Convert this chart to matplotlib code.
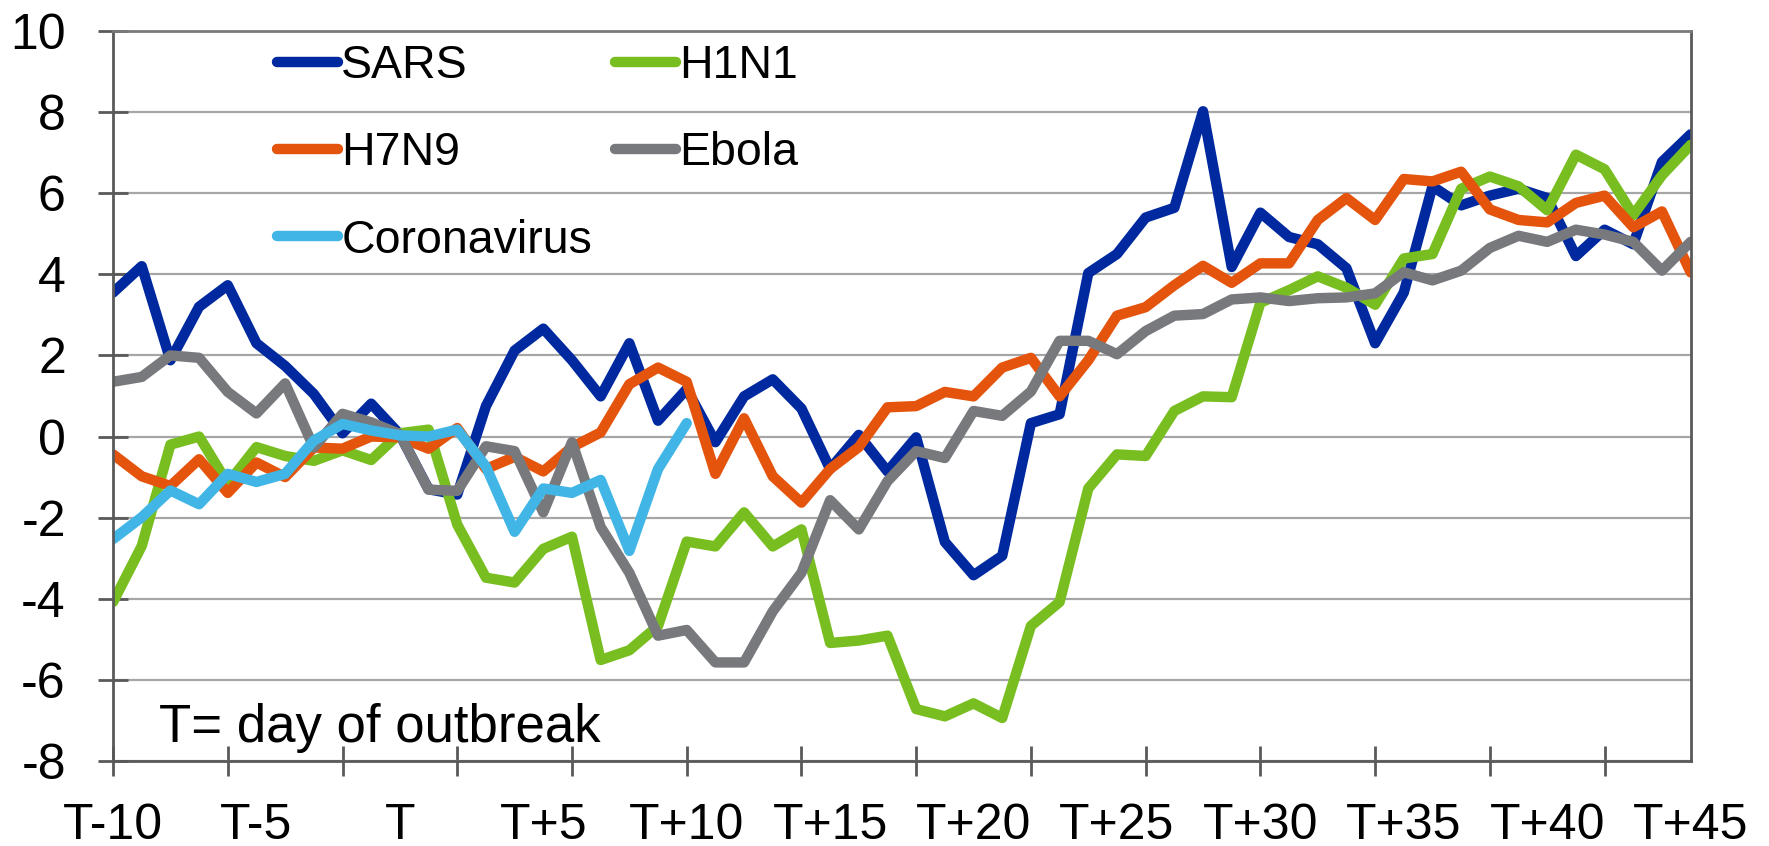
import matplotlib
matplotlib.use("Agg")
import matplotlib.pyplot as plt

plt.rcParams['font.family'] = ['Liberation Sans', 'DejaVu Sans']
plt.rcParams['axes.unicode_minus'] = False

days = list(range(-10, 46))
day_labels = ["T" if d == 0 else "T%+d" % d for d in days]

sars = [3.55, 4.2, 1.88, 3.2, 3.73, 2.3, 1.74, 1.05, 0.08, 0.81,
        0.05, -1.3, -1.43, 0.75, 2.12, 2.66, 1.88, 0.99, 2.3, 0.39,
        1.17, -0.14, 0.99, 1.41, 0.69, -0.8, 0.04, -0.86, -0.02, -2.6,
        -3.42, -2.94, 0.33, 0.55, 4.03, 4.5, 5.4, 5.64, 8.02, 4.18,
        5.52, 4.92, 4.74, 4.15, 2.3, 3.55, 6.17, 5.7, 5.94, 6.11,
        5.88, 4.45, 5.1, 4.74, 6.77, 7.45]
h1n1 = [-4.08, -2.7, -0.2, 0.0, -1.16, -0.26, -0.48, -0.6, -0.34, -0.58,
        0.08, 0.17, -2.17, -3.48, -3.6, -2.77, -2.47, -5.51, -5.27, -4.67,
        -2.59, -2.71, -1.87, -2.71, -2.29, -5.09, -5.03, -4.91, -6.72, -6.9,
        -6.58, -6.94, -4.67, -4.08, -1.28, -0.44, -0.48, 0.63, 0.99, 0.97,
        3.3, 3.61, 3.95, 3.67, 3.25, 4.39, 4.5, 6.11, 6.41, 6.17,
        5.58, 6.95, 6.59, 5.46, 6.44, 7.19]
h7n9 = [-0.44, -0.98, -1.22, -0.56, -1.39, -0.64, -1.0, -0.27, -0.3, 0.0,
        -0.02, -0.3, 0.21, -0.8, -0.5, -0.86, -0.26, 0.1, 1.29, 1.7,
        1.35, -0.92, 0.45, -0.98, -1.63, -0.8, -0.26, 0.72, 0.75, 1.1,
        0.99, 1.7, 1.94, 0.99, 1.88, 2.98, 3.19, 3.73, 4.21, 3.79,
        4.27, 4.27, 5.34, 5.88, 5.34, 6.35, 6.29, 6.53, 5.6, 5.34,
        5.28, 5.76, 5.94, 5.16, 5.55, 4.05]
ebola = [1.35, 1.47, 2.0, 1.94, 1.1, 0.57, 1.31, -0.27, 0.56, 0.35,
         0.06, -1.31, -1.34, -0.24, -0.36, -1.87, -0.14, -2.23, -3.36, -4.91,
         -4.77, -5.57, -5.57, -4.31, -3.36, -1.57, -2.29, -1.1, -0.36, -0.53,
         0.63, 0.51, 1.11, 2.36, 2.36, 2.03, 2.6, 2.98, 3.02, 3.38,
         3.43, 3.34, 3.41, 3.43, 3.53, 4.05, 3.85, 4.09, 4.65, 4.95,
         4.8, 5.1, 4.98, 4.8, 4.09, 4.8]
corona = [-2.53, -1.99, -1.33, -1.67, -0.92, -1.12, -0.92, -0.1, 0.31, 0.15,
          0.03, 0.0, 0.17, -0.74, -2.35, -1.28, -1.39, -1.07, -2.82, -0.8,
          0.33]

names = ["SARS", "H1N1", "H7N9", "Ebola", "Coronavirus"]
series = [sars, h1n1, h7n9, ebola, corona]
colors = ["#0029A0", "#78BE20", "#E4540C", "#77797C", "#41B6E6"]

fig = plt.figure(figsize=(17.69, 8.46), dpi=100)
ax = fig.add_axes([0.0639, 0.1005, 0.8918, 0.8629])

x_all = list(range(len(days)))
lines = {}
for name, vals, col in zip(names, series, colors):
    ln, = ax.plot(x_all[:len(vals)], vals, color=col, lw=7.5,
                  solid_capstyle='round', solid_joinstyle='round', label=name)
    lines[name] = ln

ax.set_xlim(0, len(days) - 1)
ax.set_ylim(-8, 10)

# y axis
ax.set_yticks(range(-8, 11, 2))
ax.tick_params(axis='y', direction='inout', length=22, width=2, color='#595959',
               pad=23, labelsize=36)
ax.yaxis.grid(True, color='#a6a6a6', lw=1.6)
ax.set_axisbelow(True)

# x axis: labels every 5 days, tick marks every 4
ax.xaxis.remove_overlapping_locs = False
ax.set_xticks(x_all[::5])
ax.set_xticklabels(day_labels[::5])
ax.set_xticks(x_all[::4], minor=True)
ax.tick_params(axis='x', which='major', length=0, pad=30, labelsize=36)
ax.tick_params(axis='x', which='minor', direction='inout', length=22, width=2,
               color='#595959')

for side in ['left', 'bottom', 'right']:
    ax.spines[side].set_color('#595959')
    ax.spines[side].set_linewidth(2)
ax.spines['top'].set_color('#7a7a7a')
ax.spines['top'].set_linewidth(2)

order = ["SARS", "H7N9", "Coronavirus", "H1N1", "Ebola"]
leg = ax.legend([lines[n] for n in order], order, ncol=2, frameon=False,
                loc='upper left', bbox_to_anchor=(0.104, 0.982), fontsize=33.5,
                handlelength=1.3, handletextpad=0.08, columnspacing=0.5,
                labelspacing=0.93, borderpad=0, borderaxespad=0)

ax.text(0.029, 0.026, "T= day of outbreak", transform=ax.transAxes,
        fontsize=38, ha='left', va='baseline')

fig.savefig("out.png", dpi=100)
